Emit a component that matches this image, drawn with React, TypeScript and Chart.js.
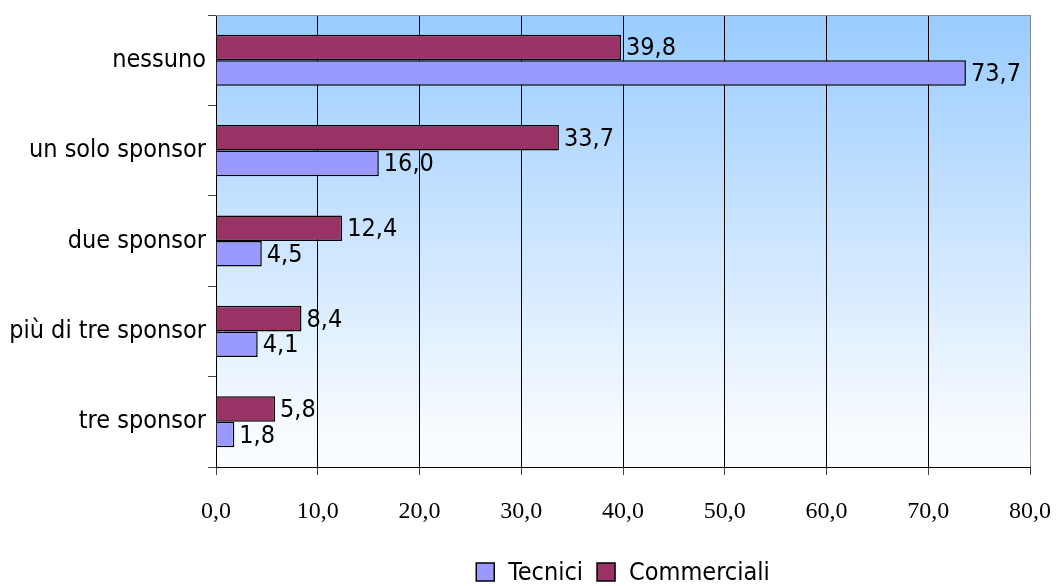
import React, { useEffect, useRef } from "react";
import { Chart, registerables } from "chart.js";

Chart.register(...registerables);

const categories = ["nessuno", "un solo sponsor", "due sponsor", "più di tre sponsor", "tre sponsor"];
const tecnici = [73.7, 16.0, 4.5, 4.1, 1.8];
const commerciali = [39.8, 33.7, 12.4, 8.4, 5.8];
const xMin = 0;
const xMax = 80;
const xStep = 10;

const SANS = '"DejaVu Sans Condensed", "DejaVu Sans", sans-serif';
const SERIF = '"Liberation Serif", "DejaVu Serif", serif';

const fmt = (v: number) => v.toFixed(1).replace(".", ",");

const bgPlugin = {
  id: "bgGradient",
  beforeDraw(chart: any) {
    const { ctx, chartArea } = chart;
    if (!chartArea) return;
    const g = ctx.createLinearGradient(0, chartArea.top, 0, chartArea.bottom);
    g.addColorStop(0, "#99ccff");
    g.addColorStop(0.9, "#f6faff");
    g.addColorStop(1, "#fbfdff");
    ctx.save();
    ctx.fillStyle = g;
    ctx.fillRect(chartArea.left, chartArea.top, chartArea.right - chartArea.left, chartArea.bottom - chartArea.top);
    ctx.restore();
  },
  afterDraw(chart: any) {
    const { ctx, chartArea } = chart;
    ctx.save();
    ctx.strokeStyle = "#8a8a8a";
    ctx.lineWidth = 1;
    ctx.beginPath();
    ctx.moveTo(chartArea.left, chartArea.top + 0.5);
    ctx.lineTo(chartArea.right + 0.5, chartArea.top + 0.5);
    ctx.lineTo(chartArea.right + 0.5, chartArea.bottom);
    ctx.stroke();
    ctx.restore();
  },
};

const labelsPlugin = {
  id: "valueLabels",
  afterDatasetsDraw(chart: any) {
    const { ctx } = chart;
    ctx.save();
    ctx.font = `25px ${SANS}`;
    ctx.fillStyle = "#000";
    ctx.textAlign = "left";
    ctx.textBaseline = "middle";
    chart.data.datasets.forEach((ds: any, di: number) => {
      const meta = chart.getDatasetMeta(di);
      meta.data.forEach((el: any, i: number) => {
        ctx.fillText(fmt(ds.data[i]), el.x + 5, el.y + 1.5);
      });
    });
    ctx.restore();
  },
};

const legendPlugin = {
  id: "customLegend",
  afterDraw(chart: any) {
    const { ctx, chartArea } = chart;
    const items = [...chart.data.datasets].reverse();
    ctx.save();
    ctx.font = `25px ${SANS}`;
    const box = 18;
    const gap = 14;
    const widths = items.map((d: any) => ctx.measureText(d.label).width);
    let total = 0;
    widths.forEach((w: number, i: number) => {
      total += box + gap + w + (i < items.length - 1 ? gap : 0);
    });
    let x = (chartArea.left + chartArea.right) / 2 - total / 2;
    const cy = 572;
    items.forEach((d: any, i: number) => {
      ctx.fillStyle = d.backgroundColor;
      ctx.fillRect(x, cy - box / 2, box, box);
      ctx.strokeStyle = "#000";
      ctx.lineWidth = 1.5;
      ctx.strokeRect(x, cy - box / 2, box, box);
      x += box + gap;
      ctx.fillStyle = "#000";
      ctx.textAlign = "left";
      ctx.textBaseline = "middle";
      ctx.fillText(d.label, x, cy + 1);
      x += widths[i] + gap;
    });
    ctx.restore();
  },
};

export default function App() {
  const ref = useRef<HTMLCanvasElement | null>(null);
  useEffect(() => {
    document.body.style.margin = "0";
    if (!ref.current) return;
    const chart = new Chart(ref.current, {
      type: "bar",
      data: {
        labels: categories,
        datasets: [
          {
            label: "Commerciali",
            data: commerciali,
            backgroundColor: "#993366",
            borderColor: "#000",
            borderWidth: 1.5,
            barPercentage: 1,
            categoryPercentage: 0.565,
          },
          {
            label: "Tecnici",
            data: tecnici,
            backgroundColor: "#9999ff",
            borderColor: "#000",
            borderWidth: 1.5,
            barPercentage: 1,
            categoryPercentage: 0.565,
          },
        ],
      },
      options: {
        indexAxis: "y",
        responsive: false,
        animation: false,
        layout: { padding: { top: 15, right: 27, left: 0, bottom: 0 } },
        plugins: { legend: { display: false }, tooltip: { enabled: false } },
        scales: {
          x: {
            type: "linear",
            min: xMin,
            max: xMax,
            ticks: {
              stepSize: xStep,
              callback: (v: any) => fmt(Number(v)),
              font: { family: SERIF, size: 24 },
              color: "#000",
              padding: 22,
              maxRotation: 0,
            },
            grid: {
              color: (c: any) => (c.tick && c.tick.value === xMax ? "#555" : "#000"),
              lineWidth: 1,
              tickLength: 8,
              tickColor: "#444",
            },
            border: { display: true, color: "#000", width: 1 },
            afterFit: (s: any) => {
              s.height = 586 - 467;
              s.paddingLeft = 0;
              s.paddingRight = 0;
            },
          },
          y: {
            type: "category",
            ticks: {
              font: { family: SANS, size: 25 },
              color: "#000",
              padding: 2,
            },
            grid: {
              offset: true,
              drawOnChartArea: false,
              tickLength: 8,
              color: "#444",
            },
            border: { display: true, color: "#000", width: 1 },
            afterFit: (s: any) => {
              s.width = 216;
              s.paddingTop = 0;
              s.paddingBottom = 0;
            },
          },
        },
      },
      plugins: [bgPlugin, labelsPlugin, legendPlugin],
    } as any);
    return () => chart.destroy();
  }, []);
  return (
    <div style={{ width: 1057, height: 586 }}>
      <canvas ref={ref} width={1057} height={586} />
    </div>
  );
}
